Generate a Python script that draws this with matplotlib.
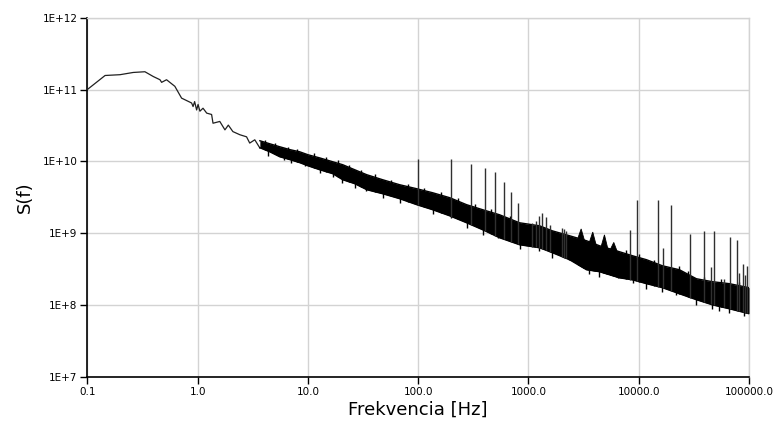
import numpy as np
import matplotlib
matplotlib.use("Agg")
import matplotlib.pyplot as plt

# ---- low-frequency part of the spectrum (single line) ----
lf_freq = [0.1, 0.145, 0.198, 0.261, 0.333, 0.396, 0.456, 0.472, 0.523, 0.622,
           0.716, 0.883, 0.91, 0.94, 0.98, 1.01, 1.05, 1.12, 1.21, 1.34, 1.38,
           1.59, 1.77, 1.90, 2.09, 2.42, 2.78, 2.97, 3.3, 3.67]
lf_val = [1.0e11, 1.57e11, 1.61e11, 1.73e11, 1.77e11, 1.52e11, 1.37e11, 1.26e11,
          1.37e11, 1.11e11, 7.6e10, 6.5e10, 5.8e10, 6.8e10, 5.2e10, 6.2e10,
          5.0e10, 5.5e10, 4.7e10, 4.5e10, 3.4e10, 3.6e10, 2.75e10, 3.2e10,
          2.6e10, 2.35e10, 2.2e10, 1.8e10, 2.0e10, 1.54e10]

# ---- noisy band: upper / lower envelopes ----
band_freq = [3.67, 4.52, 5.56, 6.86, 8.45, 10.0, 12.8, 16.8, 20.7, 26.6, 34.2,
             47.7, 67.9, 97, 135, 193, 275, 384, 547, 830, 1262, 1652, 2356,
             3357, 4405, 6683, 8770, 11750, 16400, 23380, 33340, 46530, 66360,
             100000]
band_upper = [1.94e10, 1.76e10, 1.60e10, 1.46e10, 1.36e10, 1.24e10, 1.12e10,
              9.9e9, 9.0e9, 7.66e9, 6.53e9, 5.56e9, 4.74e9, 4.17e9, 3.67e9,
              3.13e9, 2.50e9, 2.13e9, 1.81e9, 1.40e9, 1.27e9, 1.08e9, 9.25e8,
              7.88e8, 6.71e8, 5.54e8, 4.87e8, 4.29e8, 3.53e8, 3.11e8, 2.33e8,
              2.12e8, 1.99e8, 1.75e8]
band_lower = [1.55e10, 1.36e10, 1.16e10, 1.06e10, 9.6e9, 8.7e9, 7.66e9, 6.75e9,
              5.56e9, 4.90e9, 4.04e9, 3.55e9, 3.03e9, 2.50e9, 2.13e9, 1.75e9,
              1.40e9, 1.12e9, 8.67e8, 6.93e8, 6.29e8, 5.36e8, 4.29e8, 3.11e8,
              2.92e8, 2.40e8, 2.25e8, 1.99e8, 1.75e8, 1.44e8, 1.19e8, 1.01e8,
              8.9e7, 7.6e7]

# ---- small noise excursions above the band ----
jag_freq = [4.07, 5.01, 6.6, 8.0, 11.3, 14.7, 18.6, 23.5, 30.2, 40.4, 56.9,
            81.2, 114, 161, 230, 325, 458, 674, 7656, 10150, 13880, 23380,
            27920, 39390, 55570, 81460]
jag_val = [1.98e10, 1.8e10, 1.6e10, 1.48e10, 1.3e10, 1.15e10, 1.03e10, 9.0e9,
           7.7e9, 6.6e9, 5.6e9, 4.9e9, 4.3e9, 3.75e9, 3.1e9, 2.55e9, 2.2e9,
           1.75e9, 5.9e8, 5.1e8, 4.3e8, 3.45e8, 3.0e8, 2.5e8, 2.3e8, 2.1e8]

# ---- downward noise excursions below the band ----
dip_freq = [4.36, 6.05, 7.1, 9.4, 12.8, 16.8, 20.4, 26.6, 34, 47.7, 67.9, 83.7,
            135, 200, 275, 384, 528, 830, 1258, 1652, 2350, 3573, 4405, 6455,
            8830, 11750, 16400, 21800, 33340, 46530, 53800, 66360, 90000]
dip_val = [1.2e10, 1.03e10, 9.5e9, 8.5e9, 6.8e9, 6.0e9, 5.06e9, 4.3e9, 3.82e9,
           3.1e9, 2.65e9, 2.77e9, 1.85e9, 1.63e9, 1.2e9, 9.6e8, 8.6e8, 6.0e8,
           5.6e8, 4.6e8, 4.3e8, 2.75e8, 2.5e8, 2.38e8, 2.03e8, 1.7e8, 1.5e8,
           1.40e8, 1.02e8, 8.8e7, 8.2e7, 7.8e7, 7.0e7]

# ---- broad humps on the upper edge ----
hump_freq = [3006, 3830, 4890, 5940]
hump_top = [1.15e9, 1.04e9, 9.5e8, 7.46e8]

# ---- narrow spectral lines (spikes) ----
spike_freq = [100, 200, 300, 400, 500, 600, 700, 800, 1075, 1159, 1242, 1334,
              1449, 1553, 2023, 2123, 2199, 8414, 9666, 15070, 16740, 19650,
              29400, 38800, 45300, 48500, 58900, 67300, 77800, 81700, 87500,
              92500, 96400]
spike_top = [1.09e10, 1.08e10, 9.3e9, 8.1e9, 7.1e9, 5.1e9, 3.8e9, 2.6e9,
             1.39e9, 1.46e9, 1.72e9, 1.91e9, 1.66e9, 1.29e9, 1.18e9, 1.15e9,
             1.06e9, 1.12e9, 2.87e9, 2.87e9, 6.2e8, 2.50e9, 9.8e8, 1.06e9,
             3.39e8, 1.06e9, 2.31e8, 8.9e8, 7.96e8, 2.8e8, 3.77e8, 2.65e8, 3.46e8]

x_ticks = [0.1, 1, 10, 100, 1000, 10000, 100000]
x_ticklabels = ["0.1", "1.0", "10.0", "100.0", "1000.0", "10000.0", "100000.0"]
y_ticks = [1e7, 1e8, 1e9, 1e10, 1e11, 1e12]
y_ticklabels = ["1E+7", "1E+8", "1E+9", "1E+10", "1E+11", "1E+12"]

fig = plt.figure(figsize=(7.76, 4.30), dpi=100)
ax = fig.add_axes([87.3 / 776, 53 / 430, 661.7 / 776, 359.3 / 430])
ax.set_xscale("log")
ax.set_yscale("log")
ax.set_xlim(0.1, 1e5)
ax.set_ylim(1e7, 1e12)

# grid
for xt in x_ticks:
    ax.axvline(xt, color="#d3d3d3", lw=1.0, zorder=0)
for yt in y_ticks:
    ax.axhline(yt, color="#d3d3d3", lw=1.0, zorder=0)

ink = "#000000"
ax.plot(lf_freq, lf_val, color="#202020", lw=0.9, zorder=3)

bf = np.array(band_freq)
bu = np.array(band_upper)
bl = np.array(band_lower)
ax.fill_between(bf, bl, bu, color=ink, lw=0, zorder=3)
ax.plot(bf, bu, color=ink, lw=1.0, zorder=3)
ax.plot(bf, bl, color=ink, lw=1.0, zorder=3)

lbf = np.log10(bf)
def edge(arr, f):
    return 10 ** np.interp(np.log10(f), lbf, np.log10(arr))

# humps
for hf, ht in zip(hump_freq, hump_top):
    fx = [hf / 1.07, hf, hf * 1.07]
    ax.fill(fx + fx[::-1],
            [edge(bu, fx[0]), ht, edge(bu, fx[2])] + [edge(bl, v) for v in fx[::-1]],
            color=ink, lw=0.6, zorder=3)

# small excursions
jf = np.array(jag_freq)
ax.vlines(jf, edge(bl, jf), jag_val, color=ink, lw=1.0, zorder=3)
df = np.array(dip_freq)
ax.vlines(df, dip_val, edge(bu, df), color=ink, lw=1.0, zorder=3)

# spikes
sf = np.array(spike_freq)
ax.vlines(sf, edge(bl, sf), spike_top, color="#303030", lw=1.0, zorder=3)

# spines
for s in ["top", "right"]:
    ax.spines[s].set_color("#d3d3d3")
    ax.spines[s].set_linewidth(1.0)
for s in ["left", "bottom"]:
    ax.spines[s].set_color("black")
    ax.spines[s].set_linewidth(1.2)

ax.set_xticks(x_ticks)
ax.set_xticklabels(x_ticklabels)
ax.set_yticks(y_ticks)
ax.set_yticklabels(y_ticklabels)
ax.minorticks_off()
ax.tick_params(axis="both", direction="out", length=5, width=1, labelsize=7.5,
               colors="black", pad=2)

ax.set_xlabel("Frekvencia [Hz]", fontsize=13, labelpad=3)
ax.set_ylabel("S(f)", fontsize=13, labelpad=6)

fig.savefig("out.png", dpi=100)
